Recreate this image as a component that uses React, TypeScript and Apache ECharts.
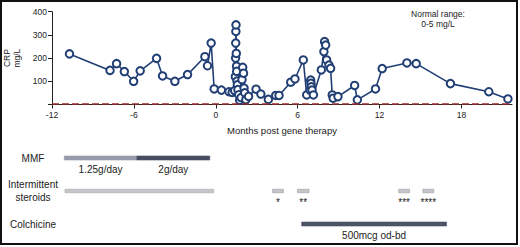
import React, { useEffect, useRef } from "react";
import * as echarts from "echarts";

// CRP time course (months post gene therapy, CRP mg/L)
const crpMonths = [
  -10.72, -7.75, -7.27, -6.7, -6.02, -5.54, -4.34, -3.9, -3.0, -2.07, -0.8, -0.61, -0.34, -0.12,
  0.41, 0.97, 1.2, 1.38, 1.43, 1.45, 1.46, 1.47, 1.48, 1.5, 1.52, 1.53, 1.55, 1.58, 1.62, 1.68, 1.75,
  1.85, 1.92, 1.97, 2.03, 2.07, 2.12, 2.2, 2.4, 2.95, 3.3, 3.85, 4.39, 4.63, 5.49, 5.8,
  6.41, 6.66, 6.9, 6.95, 6.97, 7.0, 7.05, 7.15, 7.73, 7.92, 7.97, 8.05, 8.12, 8.29, 8.41, 8.53, 8.6, 8.95,
  10.17, 10.37, 11.7, 12.19, 14.0, 14.68, 17.19, 20.0, 21.4,
];
const crpValues = [
  218, 147, 176, 142, 100, 145, 199, 123, 100, 129, 206, 167, 265, 67,
  62, 55, 52, 60, 120, 200, 265, 315, 343, 220, 165, 143, 101, 85, 64, 42, 18,
  30, 107, 160, 135, 71, 50, 21, 35, 66, 45, 22, 39, 39, 96, 110,
  192, 41, 62, 105, 91, 76, 62, 41, 149, 228, 271, 256, 192, 170, 156, 41, 27, 34,
  82, 20, 67, 155, 179, 176, 90, 55, 24,
];
const normalUpper = 5;
const xTicks = { min: -12, max: 21.7, interval: 6 };
const yTicks = { min: 0, max: 400, interval: 100 };

// Treatment timeline
const treatmentRowsLabels = ["MMF", "Intermittent\nsteroids", "Colchicine"];
const treatmentRow = [0, 0, 1, 1, 1, 1, 1, 2];
const treatmentStart = [-11.1, -5.78, -11.05, 4.15, 5.98, 13.4, 15.17, 6.29];
const treatmentEnd = [-5.78, -0.44, -0.15, 4.95, 6.83, 14.2, 15.97, 16.9];
const treatmentKind = ["mmfLow", "mmfHigh", "steroid", "steroidShort", "steroidShort", "steroidShort", "steroidShort", "colchicine"];
const treatmentLabel = ["1.25g/day", "2g/day", "", "*", "**", "***", "****", "500mcg od-bd"];

const FONT = "'Liberation Sans', Arial, Helvetica, sans-serif";
const kindStyle: Record<string, { fill: string; stroke: string; h: number }> = {
  mmfLow: { fill: "#959bab", stroke: "#959bab", h: 4 },
  mmfHigh: { fill: "#474e5f", stroke: "#474e5f", h: 4 },
  steroid: { fill: "#c6c6ca", stroke: "#a9a9af", h: 3.5 },
  steroidShort: { fill: "#c6c6ca", stroke: "#9c9ca2", h: 3.5 },
  colchicine: { fill: "#4c5364", stroke: "#4c5364", h: 4 },
};

export default function App() {
  const ref = useRef<HTMLDivElement>(null);
  useEffect(() => {
    if (!ref.current) return;
    const chart = echarts.init(ref.current, undefined, { renderer: "svg" });
    const lineData = crpMonths.map((m, i) => [m, crpValues[i]]);
    const timelineData = treatmentStart.map((s, i) => [s, treatmentEnd[i], treatmentRow[i]]);
    chart.setOption({
      animation: false,
      backgroundColor: "#ffffff",
      textStyle: { fontFamily: FONT },
      grid: [
        { left: 52, right: 8, top: 11.7, bottom: 142.5, outerBoundsMode: "none" },
        { left: 52, right: 8, top: 141.5, height: 99, outerBoundsMode: "none" },
      ],
      xAxis: [
        {
          gridIndex: 0,
          type: "value",
          min: xTicks.min,
          max: xTicks.max,
          interval: xTicks.interval,
          splitLine: { show: false },
          axisLine: { onZero: false, lineStyle: { color: "#222", width: 1 } },
          axisTick: { show: true, length: 4, lineStyle: { color: "#222" } },
          axisLabel: { fontSize: 8.5, color: "#222", margin: 6, fontFamily: FONT, showMaxLabel: false },
          name: "Months post gene therapy",
          nameLocation: "middle",
          nameGap: 21,
          nameTextStyle: { fontSize: 9.5, color: "#222", fontFamily: FONT },
        },
        { gridIndex: 1, type: "value", min: xTicks.min, max: xTicks.max, show: false },
      ],
      yAxis: [
        {
          gridIndex: 0,
          type: "value",
          min: yTicks.min,
          max: yTicks.max,
          interval: yTicks.interval,
          splitLine: { show: false },
          axisLine: { show: true, onZero: false, lineStyle: { color: "#222", width: 1 } },
          axisTick: { show: true, length: 4, lineStyle: { color: "#222" } },
          axisLabel: {
            fontSize: 8.5,
            color: "#222",
            margin: 5,
            fontFamily: FONT,
            formatter: (v: number) => (v === 0 ? "" : String(v)),
          },
          name: "CRP\nmg/L",
          nameLocation: "middle",
          nameRotate: 90,
          nameGap: 20,
          nameTextStyle: { fontSize: 8.5, color: "#222", lineHeight: 10, fontFamily: FONT },
        },
        {
          gridIndex: 1,
          type: "category",
          data: treatmentRowsLabels,
          inverse: true,
          axisLine: { show: false },
          axisTick: { show: false },
          splitLine: { show: false },
          axisLabel: { align: "center", margin: 19, fontSize: 10, lineHeight: 13, color: "#222", fontFamily: FONT },
        },
      ],
      series: [
        {
          type: "line",
          xAxisIndex: 0,
          yAxisIndex: 0,
          data: lineData,
          symbol: "emptyCircle",
          symbolSize: 7.5,
          lineStyle: { color: "#213f75", width: 1.6 },
          itemStyle: { color: "#213f75", borderColor: "#213f75", borderWidth: 1.6 },
          markLine: {
            silent: true,
            symbol: "none",
            label: { show: false },
            lineStyle: { color: "#9e2a2b", type: [7, 3], width: 1.5 },
            data: [{ yAxis: normalUpper }],
          },
          z: 3,
        },
        {
          type: "custom",
          xAxisIndex: 1,
          yAxisIndex: 1,
          data: timelineData,
          renderItem: (params: any, api: any) => {
            const idx = params.dataIndex;
            const row = api.value(2);
            const s = api.coord([api.value(0), row]);
            const e = api.coord([api.value(1), row]);
            const st = kindStyle[treatmentKind[idx]];
            const children: any[] = [
              {
                type: "rect",
                shape: { x: s[0], y: s[1] - st.h / 2, width: e[0] - s[0], height: st.h },
                style: { fill: st.fill, stroke: st.stroke, lineWidth: 0.6 },
              },
            ];
            if (treatmentLabel[idx]) {
              children.push({
                type: "text",
                x: (s[0] + e[0]) / 2,
                y: s[1] + 6,
                style: {
                  text: treatmentLabel[idx],
                  fontSize: 10,
                  fontFamily: FONT,
                  fill: "#222",
                  align: "center",
                  verticalAlign: "top",
                },
              });
            }
            return { type: "group", children };
          },
        },
      ],
      graphic: [
        {
          type: "text",
          x: 438,
          y: 19,
          style: {
            text: "Normal range:\n0-5 mg/L",
            fontSize: 8.5,
            lineHeight: 10.5,
            fontFamily: FONT,
            fill: "#222",
            align: "center",
            verticalAlign: "middle",
          },
        },
        {
          type: "rect",
          shape: { x: 1, y: 1, width: 516, height: 243 },
          style: { fill: "none", stroke: "#111", lineWidth: 2 },
          silent: true,
        },
      ],
    });
    return () => chart.dispose();
  }, []);
  return (
    <div
      ref={ref}
      style={{ position: "fixed", left: 0, top: 0, width: 520, height: 247 }}
    />
  );
}
